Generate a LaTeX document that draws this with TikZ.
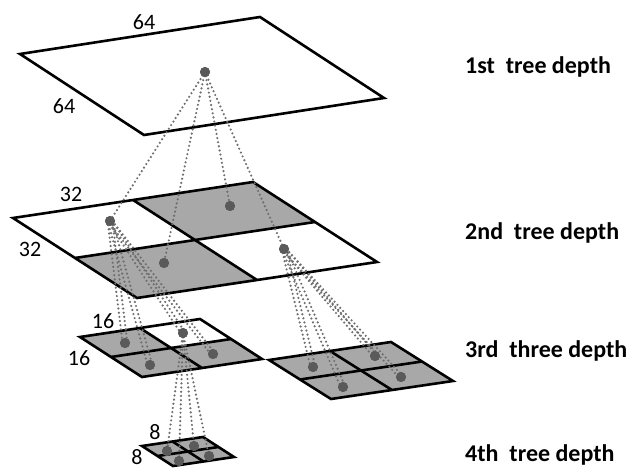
\documentclass[tikz,border=0pt]{standalone}
\usepackage{fontspec}
\setmainfont{Carlito}
\usetikzlibrary{calc}

\definecolor{cellgray}{HTML}{A8A8A8}
\definecolor{dotgray}{HTML}{5A5A5A}
\definecolor{linkgray}{HTML}{6E6E6E}

% grid points (#7-ij), i along the back edge, j along the side edge, i,j in {0,1,2}
\newcommand\planegrid[7]{%
  \foreach \i in {0,1,2}{%
    \foreach \j in {0,1,2}{%
      \coordinate (#7-\i\j) at ($(#1,#2)+{0.5*\i}*(#3,#4)+{0.5*\j}*(#5,#6)$);
    }}}
\newcommand\cell[3]{% plane, i, j
  \pgfmathtruncatemacro\ii{#2+1}\pgfmathtruncatemacro\jj{#3+1}%
  \fill[cellgray] (#1-#2#3) -- (#1-\ii#3) -- (#1-\ii\jj) -- (#1-#2\jj) -- cycle;}
\newcommand\gridlines[1]{%
  \draw[edge] (#1-00) -- (#1-20) -- (#1-22) -- (#1-02) -- cycle;
  \draw[edge] (#1-10) -- (#1-12);
  \draw[edge] (#1-01) -- (#1-21);}

\begin{document}
\begin{tikzpicture}[x=1pt,y=-1pt,
  edge/.style={line width=2.6pt,black,line join=miter},
  link/.style={linkgray,line width=2.4pt,line cap=round,dash pattern=on 0pt off 4.2pt},
  pt/.style={circle,fill=dotgray,minimum size=10pt,inner sep=0pt},
  size/.style={font=\fontsize{22}{22}\selectfont,inner sep=0pt},
  depth/.style={font=\fontsize{24}{24}\selectfont\bfseries,anchor=base west,inner sep=0pt}]
\useasboundingbox (0,0) rectangle (630,470);
\fill[white] (0,0) rectangle (630,470);

% ---- planes ----
\planegrid{20}{54}{240}{-37}{124}{81}{P}
\draw[edge] (P-00) -- (P-20) -- (P-22) -- (P-02) -- cycle;

\planegrid{13}{218}{240}{-36}{124}{80}{Q}
\cell{Q}{1}{0}\cell{Q}{0}{1}
\gridlines{Q}

\planegrid{80}{337}{120}{-18}{62}{40}{R}
\cell{R}{0}{0}\cell{R}{0}{1}\cell{R}{1}{1}
\gridlines{R}

\planegrid{269}{360}{122}{-18}{62}{39}{S}
\cell{S}{0}{0}\cell{S}{1}{0}\cell{S}{0}{1}\cell{S}{1}{1}
\gridlines{S}

\planegrid{142}{446}{61}{-9}{31}{20}{T}
\cell{T}{0}{0}\cell{T}{1}{0}\cell{T}{0}{1}\cell{T}{1}{1}
\gridlines{T}

% ---- block centres ----
\node[pt] (d1) at (205,72) {};
\node[pt] (d2a) at (110,221) {};
\node[pt] (d2b) at (230,206) {};
\node[pt] (d2c) at (164,263) {};
\node[pt] (d2d) at (284,249) {};
\node[pt] (d3a) at (125,343) {};
\node[pt] (d3b) at (183,333) {};
\node[pt] (d3c) at (150,365) {};
\node[pt] (d3d) at (213,354) {};
\node[pt] (d3e) at (313,367) {};
\node[pt] (d3f) at (375,356) {};
\node[pt] (d3g) at (343,387) {};
\node[pt] (d3h) at (401,377) {};
\node[pt] (d4a) at (167,451) {};
\node[pt] (d4b) at (194,446) {};
\node[pt] (d4c) at (179,461) {};
\node[pt] (d4d) at (209,456) {};

% ---- links ----
\foreach \c in {d2a,d2b,d2c,d2d}
  \draw[link] (d1.center) -- (\c.center);
\foreach \c in {d3a,d3b,d3c,d3d}{
  \draw[link] ([xshift=-2.4pt]d2a.center) -- ([xshift=-2.4pt]\c.center);
  \draw[link] ([xshift=2.4pt]d2a.center) -- ([xshift=2.4pt]\c.center);}
\foreach \c in {d3e,d3f,d3g,d3h}{
  \draw[link] ([xshift=-2.4pt]d2d.center) -- ([xshift=-2.4pt]\c.center);
  \draw[link] ([xshift=2.4pt]d2d.center) -- ([xshift=2.4pt]\c.center);}
\foreach \c in {d4a,d4b,d4c,d4d}
  \draw[link] (d3b.center) -- (\c.center);

% dots on top of the links
\foreach \c in {d1,d2a,d2b,d2c,d2d,d3a,d3b,d3c,d3d,d3e,d3f,d3g,d3h,d4a,d4b,d4c,d4d}
  \fill[dotgray] (\c) circle (5pt);

% ---- block sizes ----
\node[size] (s64a) at (144,22) {64};
\node[size] (s64b) at (64,106) {64};
\node[size] (s32a) at (71,194) {32};
\node[size] (s32b) at (30,249) {32};
\node[size] (s16a) at (103,321) {16};
\node[size] (s16b) at (79,358) {16};
\node[size] (s8a) at (155,432) {8};
\node[size] (s8b) at (137,457) {8};

% ---- depth labels ----
\node[depth] (l1) at (465,74) {1st\ \ tree depth};
\node[depth] (l2) at (465,240) {2nd\ \ tree depth};
\node[depth] (l3) at (465,358) {3rd\ \ three depth};
\node[depth] (l4) at (465,462) {4th\ \ tree depth};
\end{tikzpicture}
\end{document}
